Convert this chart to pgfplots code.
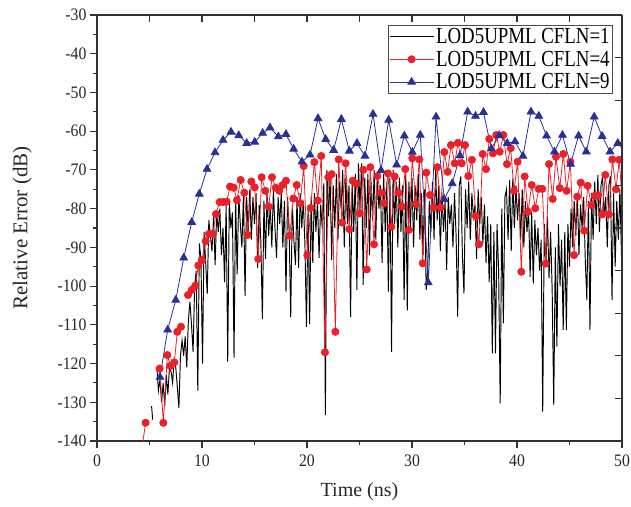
\documentclass[border=0pt]{standalone}
\usepackage{fontspec}
\setmainfont{Liberation Serif}
\newfontfamily\tickfont{Liberation Serif}[FakeStretch=0.9]
\newfontfamily\legfont{Liberation Serif}[FakeStretch=0.82]
\usepackage{pgfplots}
\pgfplotsset{compat=1.18}
\definecolor{cred}{RGB}{236,32,40}
\definecolor{cblue}{RGB}{40,48,150}
\definecolor{caxis}{RGB}{50,50,50}
\begin{document}
\begin{tikzpicture}
\begin{axis}[
  scale only axis, width=525pt, height=426pt,
  xmin=0, xmax=50, ymin=-140, ymax=-30,
  axis x line*=bottom, axis y line*=left,
  axis line style={caxis, line width=1.3pt},
  tick align=outside,
  xtick={0,10,...,50}, xticklabels={0,10,20,30,40,50},
  ytick={-140,-130,...,-30},
  yticklabels={-140,-130,-120,-110,-100,-90,-80,-70,-60,-50,-40,-30},
  minor x tick num=1, minor y tick num=1,
  major tick length=7pt, minor tick length=4pt,
  tick style={caxis, line width=1.1pt},
  tick label style={font=\tickfont\fontsize{17.5}{17.5}\selectfont, text=black!85},
  xticklabel style={yshift=-3pt},
  xlabel={Time (ns)}, ylabel={Relative Error (dB)},
  xlabel style={font=\fontsize{20}{20}\selectfont, text=black!85, at={(axis description cs:0.5,-0.12)}, anchor=center},
  ylabel style={font=\fontsize{21}{21}\selectfont, text=black!85, at={(axis description cs:-0.142,0.5)}, anchor=center},
  unbounded coords=jump,
  legend cell align=left,
  legend style={at={(rel axis cs:0.983,0.977)}, anchor=north east, draw=black!70, line width=0.8pt, fill=white, font=\legfont\fontsize{23}{23}\selectfont, inner sep=1pt, row sep=2pt},
  legend image code/.code={\draw[mark repeat=2,mark phase=2] plot coordinates {(0pt,0pt) (22pt,0pt) (44pt,0pt)};},
]
\coordinate (SW) at (rel axis cs:0,0);
\coordinate (NE) at (rel axis cs:1,1);
\addplot[black, line width=0.95pt, no markers] table {
x y
5.10 nan
5.20 -131
5.30 -134.5
5.40 nan
5.70 -121
5.85 -127
6.00 -124
6.15 -130
6.30 -125
6.45 -131
6.60 -123
6.75 -128
6.90 -121
7.05 -122
7.20 -125
7.35 -119
7.50 -121
7.65 -126
7.80 -131.5
7.95 -118
8.10 -114
8.25 -118
8.40 -113
8.55 -121
8.70 -109
8.85 -104
9.00 -110
9.15 -117
9.30 -100
9.45 -96
9.60 -127
9.75 -89
9.90 -93
10.05 -120
10.20 -86
10.35 -94
10.50 -102
10.65 -83
10.80 -87
10.95 -91
11.10 -82
11.25 -94.5
11.40 -81
11.55 -86
11.70 -80
11.85 -92
12.00 -85
12.15 -99
12.30 -79
12.45 -119.5
12.60 -78
12.75 -85
12.90 -81
13.05 -118.5
13.20 -77
13.35 -97
13.50 -76.5
13.65 -84
13.80 -90
13.95 -76
14.10 -102.5
14.25 -77
14.40 -86
14.55 -75
14.70 -88
14.85 -77
15.00 -84
15.15 -76
15.30 -95.3
15.45 -79
15.60 -88
15.75 -108.5
15.90 -78
16.05 -93
16.20 -76
16.35 -87
16.50 -79
16.65 -90
16.80 -75
16.95 -85
17.10 -92.7
17.25 -77
17.40 -84
17.55 -76
17.70 -90
17.85 -78
18.00 -101.5
18.15 -77
18.30 -86
18.45 -108
18.60 -79
18.75 -88
18.90 -94.5
19.05 -77
19.20 -95.3
19.35 -76
19.50 -85
19.65 -78
19.80 -89
19.95 -110.5
20.10 -80
20.25 -109.8
20.40 -77
20.55 -94
20.70 -76
20.85 -86
21.00 -78
21.15 -92.7
21.30 -79
21.45 -85
21.60 -73.5
21.75 -133.3
21.90 -70
22.05 -82
22.20 -72
22.35 -93.3
22.50 -74
22.65 -85
22.80 -71
22.95 -88
23.10 -73
23.25 -80
23.40 -70
23.55 -90
23.70 -72
23.85 -84
24.00 -74
24.15 -108
24.30 -72
24.45 -86
24.60 -71
24.75 -101
24.90 -68.3
25.05 -80
25.20 -68.3
25.35 -99.7
25.50 -72
25.65 -85
25.80 -71
25.95 -92
26.10 -73
26.25 -83
26.40 -70
26.55 -88
26.70 -72
26.85 -80
27.00 -74
27.15 -94
27.30 -71
27.45 -86
27.60 -73
27.75 -101.4
27.90 -72
28.05 -117
28.20 -70
28.35 -84
28.50 -73
28.65 -90
28.80 -72
28.95 -86
29.10 -74
29.25 -103.6
29.40 -71
29.55 -106.3
29.70 -73
29.85 -85
30.00 -72
30.15 -90
30.30 -74
30.45 -83
30.60 -71
30.75 -88
30.90 -76
31.05 -92
31.20 -75
31.35 -101
31.50 -95.8
31.65 -78
31.80 -86
31.95 -73
32.10 -88
32.25 -70
32.40 -83
32.55 -74
32.70 -91
32.85 -76
33.00 -86
33.15 -78
33.30 -95.8
33.45 -77
33.60 -84
33.75 -79
33.90 -90
34.05 -76
34.20 -87
34.35 -107.9
34.50 -74
34.65 -71.7
34.80 -92
34.95 -101.9
35.10 -75
35.25 -85
35.40 -73
35.55 -88
35.70 -76
35.85 -82
36.00 -79
36.15 -93
36.30 -75
36.45 -84
36.60 -77
36.75 -89
36.90 -79
37.05 -94
37.20 -82
37.35 -99
37.50 -84
37.65 -117.4
37.80 -86
37.95 -117.4
38.10 -84
38.25 -96
38.40 -130.3
38.55 -80
38.70 -109.6
38.85 -77
39.00 -75
39.15 -88
39.30 -72.6
39.45 -91
39.60 -72.2
39.75 -85
39.90 -74
40.05 -83
40.20 -76
40.35 -88
40.50 -75
40.65 -90
40.80 -78
40.95 -86
41.10 -80
41.25 -97.6
41.40 -81
41.55 -99.3
41.70 -83
41.85 -92
42.00 -85
42.15 -96
42.30 -88
42.45 -132.4
42.60 -84
42.75 -95
42.90 -82
43.05 -98
43.20 -86
43.35 -101
43.50 -130.7
43.65 -90
43.80 -115.6
43.95 -84
44.10 -100
44.25 -88
44.40 -111.3
44.55 -86
44.70 -111.3
44.85 -84
45.00 -95
45.15 -80
45.30 -90
45.45 -78
45.60 -87
45.75 -76
45.90 -92
46.05 -79
46.20 -85
46.35 -77
46.50 -93
46.65 -103.6
46.80 -78
46.95 -111.3
47.10 -76
47.25 -88
47.40 -73
47.55 -84
47.70 -71.3
47.85 -86
48.00 -74
48.15 -71.7
48.30 -82
48.45 -77
48.60 -90
48.75 -74
48.90 -71.6
49.05 -103.6
49.20 -76
49.35 -95
49.50 -78
49.65 -88
49.80 -75
49.95 -92
50.10 -80
};
\addlegendentry{LOD5UPML CFLN=1}
\addplot[cred, line width=0.8pt, mark=*, mark size=3.6pt, mark options={fill=cred, draw=cred}] table {
x y
4.30 -141.5
4.63 -135.3
4.97 nan
5.63 nan
5.97 -121.3
6.32 -135.3
6.70 -117.8
6.98 -120.6
7.36 -119.7
7.65 -111.8
8.00 -110.5
8.33 nan
8.67 -102.3
9.02 -101.0
9.36 -99.9
9.65 -94.7
10.00 -93.3
10.35 -88.4
10.67 -86.5
11.02 -86.5
11.33 -81.4
11.68 -78.3
12.00 -78.3
12.35 -78.2
12.67 -74.3
13.02 -74.6
13.33 -77.8
13.68 -72.6
14.03 -75.9
14.35 -86.8
14.70 -73.0
15.02 -74.5
15.36 -93.0
15.68 -71.9
16.03 -75.4
16.35 -79.5
16.67 -71.9
17.02 -74.6
17.36 -75.4
17.68 -73.9
18.00 -72.8
18.35 -87.0
18.70 -77.4
19.02 -73.9
19.36 -78.6
19.69 -69.0
20.03 -92.0
20.35 -79.8
20.70 -68.0
21.02 -77.9
21.36 -66.4
21.71 -117.1
22.03 -71.9
22.35 -71.1
22.70 -111.8
23.02 -67.3
23.33 -83.6
23.68 -68.3
24.03 -85.3
24.35 -72.8
24.67 -73.5
25.02 -81.2
25.36 -70.0
25.69 -95.7
26.03 -69.3
26.38 -89.2
26.70 -71.6
27.02 -75.9
27.36 -78.6
27.71 -70.9
28.03 -84.7
28.35 -71.7
28.70 -75.9
29.02 -79.5
29.36 -69.8
29.69 -85.5
30.03 -67.0
30.35 -78.8
30.70 -67.3
31.02 -94.1
31.36 -70.7
31.71 -76.5
32.06 -79.7
32.41 -69.3
32.73 -79.7
33.08 -65.4
33.40 -70.5
33.71 -63.6
34.07 -68.3
34.38 -63.0
34.73 -68.3
35.05 -63.6
35.36 -71.6
35.71 -67.4
36.07 -81.9
36.38 -89.2
36.73 -65.9
37.05 -69.8
37.36 -62.0
37.71 -65.7
38.03 -61.0
38.35 -65.3
38.70 -61.0
39.05 -68.5
39.40 -64.4
39.71 -75.4
40.06 -67.9
40.41 -96.3
40.73 -71.7
41.05 -80.8
41.40 -73.9
41.74 -79.9
42.07 -74.9
42.41 -74.9
42.73 -94.2
43.05 -68.5
43.40 -77.5
43.71 -66.6
44.07 -74.7
44.41 -65.9
44.73 -75.4
45.08 -67.9
45.43 -92.0
45.74 -76.9
46.07 -73.3
46.41 -85.7
46.73 -74.1
47.08 -79.1
47.40 -76.7
47.74 -76.5
48.10 -81.5
48.41 -71.3
48.76 -81.5
49.08 -67.3
49.43 -75.0
49.74 -67.4
50.07 -80.2
};
\addlegendentry{LOD5UPML CFLN=4}
\addplot[cblue, line width=0.8pt, mark=triangle*, mark size=4.4pt, mark options={fill=cblue, draw=cblue}] table {
x y
6.00 -123.5
6.73 -111.3
7.50 -103.6
8.26 -92.7
9.02 -83.5
9.74 -76.2
10.48 -69.8
11.24 -65.5
12.00 -62.3
12.76 -60.2
13.50 -61.1
14.26 -63.1
15.02 -62.8
15.78 -60.5
16.48 -59.1
17.27 -61.4
18.00 -60.8
18.73 -64.6
19.52 -67.9
20.29 -66.1
21.05 -56.7
21.78 -62.1
22.54 -64.9
23.27 -56.9
24.03 -65.1
24.76 -63.1
25.52 -66.4
26.29 -55.6
27.05 -70.1
27.78 -57.1
28.54 -68.7
29.27 -61.2
30.03 -65.4
30.79 -61.0
31.55 -99.1
32.29 -56.3
33.07 -77.6
33.83 -73.5
34.57 -66.3
35.30 -55.0
36.05 -56.1
36.81 -55.1
37.55 -64.5
38.31 -61.1
39.07 -63.1
39.81 -62.7
40.57 -66.4
41.33 -55.0
42.08 -56.1
42.81 -61.2
43.57 -65.3
44.33 -61.0
45.10 -68.5
45.86 -61.2
46.60 -65.3
47.35 -56.3
48.11 -61.3
48.86 -65.3
49.60 -63.1
50.35 -65.5
};
\addlegendentry{LOD5UPML CFLN=9}
\end{axis}
\begin{axis}[
  scale only axis, width=525pt, height=426pt,
  xmin=0, xmax=50, ymin=-140, ymax=-30,
  axis x line*=top, axis y line*=right,
  axis line style={caxis, line width=1.3pt},
  tick align=inside,
  xtick={0,5,...,50}, ytick={-140,-129,...,-30},
  xticklabels={}, yticklabels={},
  major tick length=7pt,
  tick style={caxis, line width=1.1pt},
]
\end{axis}
\pgfresetboundingbox
\path[use as bounding box] ([xshift=-97pt,yshift=-65pt]SW) rectangle ([xshift=9pt,yshift=15pt]NE);
\end{tikzpicture}
\end{document}
